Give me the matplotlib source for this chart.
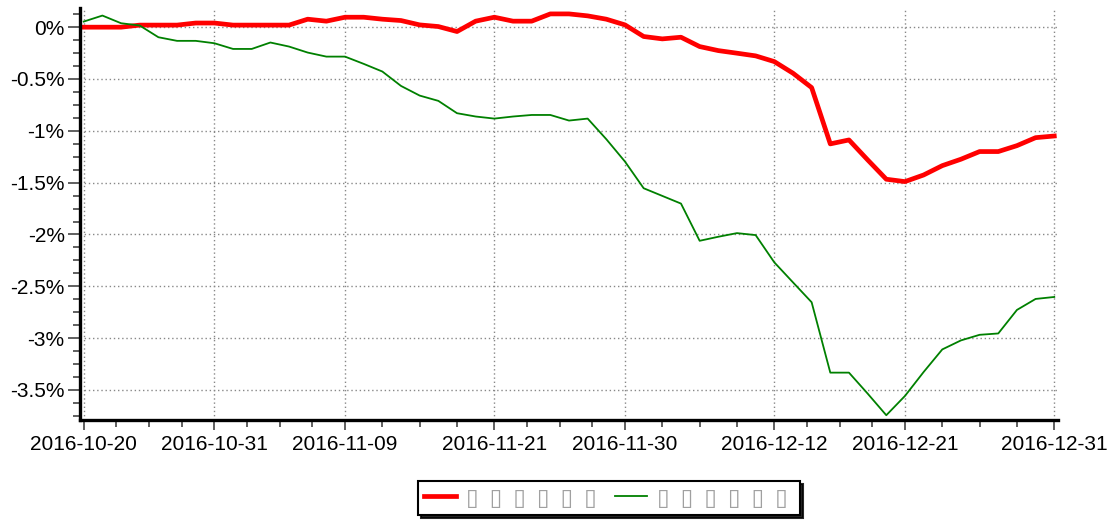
import numpy as np
import pandas as pd
import matplotlib
matplotlib.use("Agg")
import matplotlib.pyplot as plt
from matplotlib.ticker import FixedLocator, FuncFormatter

plt.rcParams['font.family'] = ['Liberation Sans', 'DejaVu Sans']

# Trading days shown on the x axis (plus the month-end point)
dates = [d.strftime("%Y-%m-%d") for d in pd.bdate_range("2016-10-20", "2016-12-30")] + ["2016-12-31"]
tick_dates = ["2016-10-20", "2016-10-31", "2016-11-09", "2016-11-21",
              "2016-11-30", "2016-12-12", "2016-12-21", "2016-12-31"]

# Cumulative returns in percent
strategy = [0.00, 0.00, 0.00, 0.02, 0.02, 0.02, 0.04, 0.04, 0.02, 0.02,
            0.02, 0.02, 0.077, 0.058, 0.096, 0.096, 0.077, 0.064, 0.022, 0.006,
            -0.042, 0.058, 0.096, 0.058, 0.058, 0.128, 0.128, 0.109, 0.077, 0.022,
            -0.09, -0.113, -0.097, -0.187, -0.226, -0.251, -0.277, -0.332, -0.444, -0.583,
            -1.126, -1.088, -1.28, -1.467, -1.49, -1.426, -1.336, -1.274, -1.20, -1.20,
            -1.143, -1.066, -1.05]
benchmark = [0.054, 0.112, 0.038, 0.016, -0.097, -0.132, -0.132, -0.155, -0.21, -0.21,
             -0.148, -0.187, -0.245, -0.284, -0.284, -0.354, -0.428, -0.567, -0.66, -0.711,
             -0.83, -0.862, -0.882, -0.862, -0.847, -0.847, -0.901, -0.882, -1.081, -1.297,
             -1.554, -1.628, -1.702, -2.061, -2.022, -1.987, -2.006, -2.269, -2.462, -2.654,
             -3.333, -3.333, -3.535, -3.744, -3.558, -3.327, -3.109, -3.022, -2.968, -2.955,
             -2.728, -2.622, -2.603]
labels = ["▯ \u2009▯ \u2009▯ \u2009▯ \u2009▯ \u2009▯ ", "▯ \u2009▯ \u2009▯ \u2009▯ \u2009▯ \u2009▯ "]
yticks = [0, -0.5, -1, -1.5, -2, -2.5, -3, -3.5]

x = np.arange(len(dates))

fig = plt.figure(figsize=(11.11, 5.2), dpi=100)
ax = fig.add_axes([80/1111, 100/520, 978/1111, 412/520])

ax.plot(x, strategy, color="#ff0000", lw=3.4, label=labels[0], solid_joinstyle="round")
ax.plot(x, benchmark, color="#008000", lw=1.3, label=labels[1])

ax.set_xlim(-0.2, 52.2)
ax.set_ylim(-3.79, 0.185)

# ticks
major = [dates.index(d) for d in tick_dates]
minor = []
for a, b in zip(major[:-1], major[1:]):
    minor += list(np.linspace(a, b, 5)[1:-1])
ax.xaxis.set_major_locator(FixedLocator(major))
ax.xaxis.set_minor_locator(FixedLocator(minor))
ax.set_xticklabels(tick_dates)
ax.yaxis.set_major_locator(FixedLocator(yticks))
ax.yaxis.set_minor_locator(FixedLocator(np.arange(0.125, -3.8, -0.125)))
ax.yaxis.set_major_formatter(FuncFormatter(lambda v, p: f"{v:g}%"))

ax.tick_params(axis="both", which="major", labelsize=15, color="#444444", width=1.2)
ax.tick_params(axis="y", which="major", length=9, pad=2)
ax.tick_params(axis="x", which="major", length=7, pad=4)
ax.tick_params(axis="both", which="minor", color="#444444", width=1.2, length=5)

ax.grid(True, which="major", color="#888888", linestyle=(0, (1, 2)), lw=1)

for s in ["top", "right"]:
    ax.spines[s].set_visible(False)
for s in ["left", "bottom"]:
    ax.spines[s].set_linewidth(2.4)
    ax.spines[s].set_color("black")

leg = fig.legend(loc="center", bbox_to_anchor=(609/1111, 1 - 498/520), ncol=2,
                 fontsize=16.5, frameon=True, fancybox=False, shadow={"color": "black", "alpha": 0.85},
                 edgecolor="black", handlelength=1.4, handletextpad=0.45, columnspacing=0.5,
                 borderpad=0.25, borderaxespad=0.5, labelcolor="#a0a0a0")
leg.get_frame().set_linewidth(1.5)

fig.savefig("out.png", dpi=100)
